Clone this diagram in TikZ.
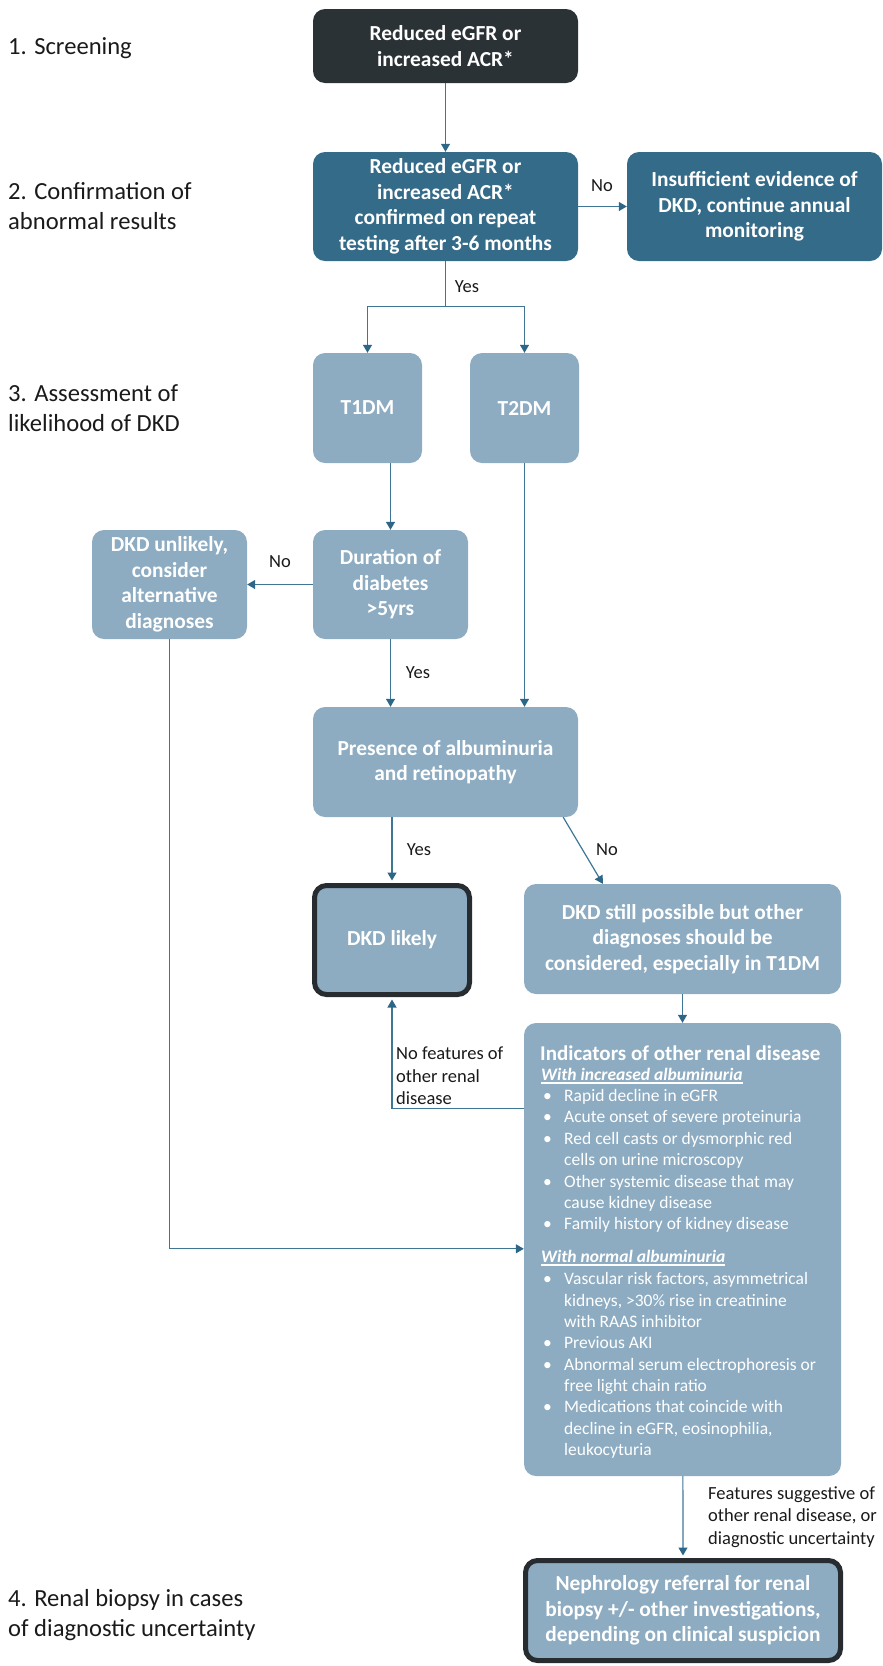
\documentclass[tikz,border=0pt]{standalone}
\usepackage{fontspec}
\setmainfont{Carlito}
\usetikzlibrary{arrows.meta,calc}
\definecolor{darkbox}{HTML}{2B3236}
\definecolor{tealbox}{HTML}{346B88}
\definecolor{lightbox}{HTML}{8DACC2}
\definecolor{linec}{HTML}{3F7696}
\definecolor{tipc}{HTML}{2D6687}
\definecolor{borderc}{HTML}{262C2F}
\definecolor{labelc}{HTML}{1A1A1A}
\newcommand\indbul{\makebox[21pt][l]{•}}
\newcommand\indcnt{\hspace*{21pt}}
\newsavebox\ulbox
\newcommand\thickul[1]{\sbox\ulbox{#1}\rlap{\rule[-2.8pt]{\wd\ulbox}{1.3pt}}\usebox\ulbox}
\begin{document}
\begin{tikzpicture}[x=1pt,y=-1pt,
  box/.style={rounded corners=12pt, inner sep=0pt, align=center, text=white,
    font=\bfseries\fontsize{21.4}{25.5}\selectfont},
  thickbox/.style={draw=borderc, line width=5pt},
  arr/.style={draw=linec, line width=1.2pt, -{Triangle[width=9pt,length=8pt,color=tipc]}},
  ln/.style={draw=linec, line width=1.2pt},
  lbl/.style={font=\fontsize{18.5}{22.5}\selectfont, text=labelc, inner sep=0pt},
  stagelbl/.style={font=\fontsize{24.6}{30}\selectfont, text=labelc, anchor=west, align=left, inner sep=0pt},
  listtxt/.style={anchor=west, align=left, inner sep=0pt, text=white, font=\fontsize{17.5}{21.35}\selectfont},
  subhead/.style={anchor=west, inner sep=0pt, text=white, font=\bfseries\itshape\fontsize{17.5}{21}\selectfont}
]
\useasboundingbox (0,0) rectangle (883,1666);

% stage labels
\node[stagelbl] (s1) at (8,48) {1. Screening};
\node[stagelbl] (s2) at (8,206.5) {2. Confirmation of\\abnormal results};
\node[stagelbl] (s3) at (8,408) {3. Assessment of\\likelihood of DKD};
\node[stagelbl] (s4) at (8,1615) {4. Renal biopsy in cases\\of diagnostic uncertainty};

% boxes
\node[box, fill=darkbox, minimum width=265, minimum height=74] (screen) at (445.5,46) {Reduced eGFR or\\increased ACR*};
\node[box, fill=tealbox, minimum width=265, minimum height=109] (confirm) at (445.5,206.5) {Reduced eGFR or\\increased ACR*\\confirmed on repeat\\testing after 3-6 months};
\node[box, fill=tealbox, minimum width=255, minimum height=109] (insuff) at (754.5,206.5) {Insufficient evidence of\\DKD, continue annual\\monitoring};
\node[box, fill=lightbox, minimum width=109, minimum height=110] (t1) at (367.5,408) {T1DM};
\node[box, fill=lightbox, minimum width=109, minimum height=110] (t2) at (524.5,408) {T2DM};
\node[box, fill=lightbox, minimum width=155, minimum height=109] (dur) at (390.5,584.5) {Duration of\\diabetes\\>5yrs};
\node[box, fill=lightbox, minimum width=155, minimum height=109] (unlikely) at (169.5,584.5) {DKD unlikely,\\consider\\alternative\\diagnoses};
\node[box, fill=lightbox, minimum width=265, minimum height=110] (pres) at (445.5,762) {Presence of albuminuria\\and retinopathy};
\node[box, fill=lightbox, thickbox, minimum width=155, minimum height=109] (likely) at (392,940) {DKD likely};
\node[box, fill=lightbox, minimum width=317, minimum height=110] (still) at (682.5,939) {DKD still possible but other\\diagnoses should be\\considered, especially in T1DM};
\node[box, fill=lightbox, minimum width=317, minimum height=453] (ind) at (682.5,1249.5) {};
\node[box, fill=lightbox, thickbox, minimum width=315, minimum height=100] (neph) at (683,1610.5) {Nephrology referral for renal\\biopsy +/- other investigations,\\depending on clinical suspicion};

% indicator contents
\node[anchor=west, inner sep=0pt, text=white, font=\bfseries\fontsize{21}{25}\selectfont] (indtitle) at (540,1053) {Indicators of other renal disease};
\node[subhead] (inchead) at (541,1076) {\thickul{With increased albuminuria}};
\node[listtxt] (inclist) at (543,1161) {\indbul Rapid decline in eGFR\\\indbul Acute onset of severe proteinuria\\\indbul Red cell casts or dysmorphic red\\\indcnt cells on urine microscopy\\\indbul Other systemic disease that may\\\indcnt cause kidney disease\\\indbul Family history of kidney disease};
\node[subhead] (norhead) at (541,1258) {\thickul{With normal albuminuria}};
\node[listtxt] (norlist) at (543,1365.5) {\indbul Vascular risk factors, asymmetrical\\\indcnt kidneys, >30\% rise in creatinine\\\indcnt with RAAS inhibitor\\\indbul Previous AKI\\\indbul Abnormal serum electrophoresis or\\\indcnt free light chain ratio\\\indbul Medications that coincide with\\\indcnt decline in eGFR, eosinophilia,\\\indcnt leukocyturia};

% connectors
\draw[arr] (screen) -- (confirm);
\draw[arr] (confirm) -- (insuff);
\coordinate (split) at ($(confirm.south)+(0,45)$);
\draw[ln] (confirm.south) -- (split);
\draw[arr] (split) -| (t1.north);
\draw[arr] (split) -| (t2.north);
\draw[arr] (t1.south -| dur.north) -- (dur.north);
\draw[arr] (dur) -- (unlikely);
\draw[arr] (dur.south) -- (dur.south |- pres.north);
\draw[arr] (t2.south) -- (t2.south |- pres.north);
\draw[arr] (likely.north |- pres.south) -- ($(likely.north)+(0,-2.5)$);
\draw[arr] ($(pres.south east)+(-15,0)$) -- ($(still.north west)+(79,0)$);
\draw[arr] (still) -- (ind);
\draw[arr] ($(ind.north west)+(0,86)$) -| ($(likely.south)+(0,2.5)$);
\draw[arr] (unlikely.south) |- ($(ind.north west)+(0,226)$);
\draw[arr] (ind) -- ($(neph.north)+(0,-2.5)$);

% connector labels
\node[lbl] (noA) at (602,186) {No};
\node[lbl] (yesA) at (467,287) {Yes};
\node[lbl] (noB) at (280,562) {No};
\node[lbl] (yesB) at (418,673) {Yes};
\node[lbl] (yesC) at (419,850) {Yes};
\node[lbl] (noC) at (607,850) {No};
\node[lbl, anchor=west, align=left] (nofeat) at (396,1076) {No features of\\other renal\\disease};
\node[lbl, anchor=west, align=left] (featsug) at (708,1517) {Features suggestive of\\other renal disease, or\\diagnostic uncertainty};
\end{tikzpicture}
\end{document}
